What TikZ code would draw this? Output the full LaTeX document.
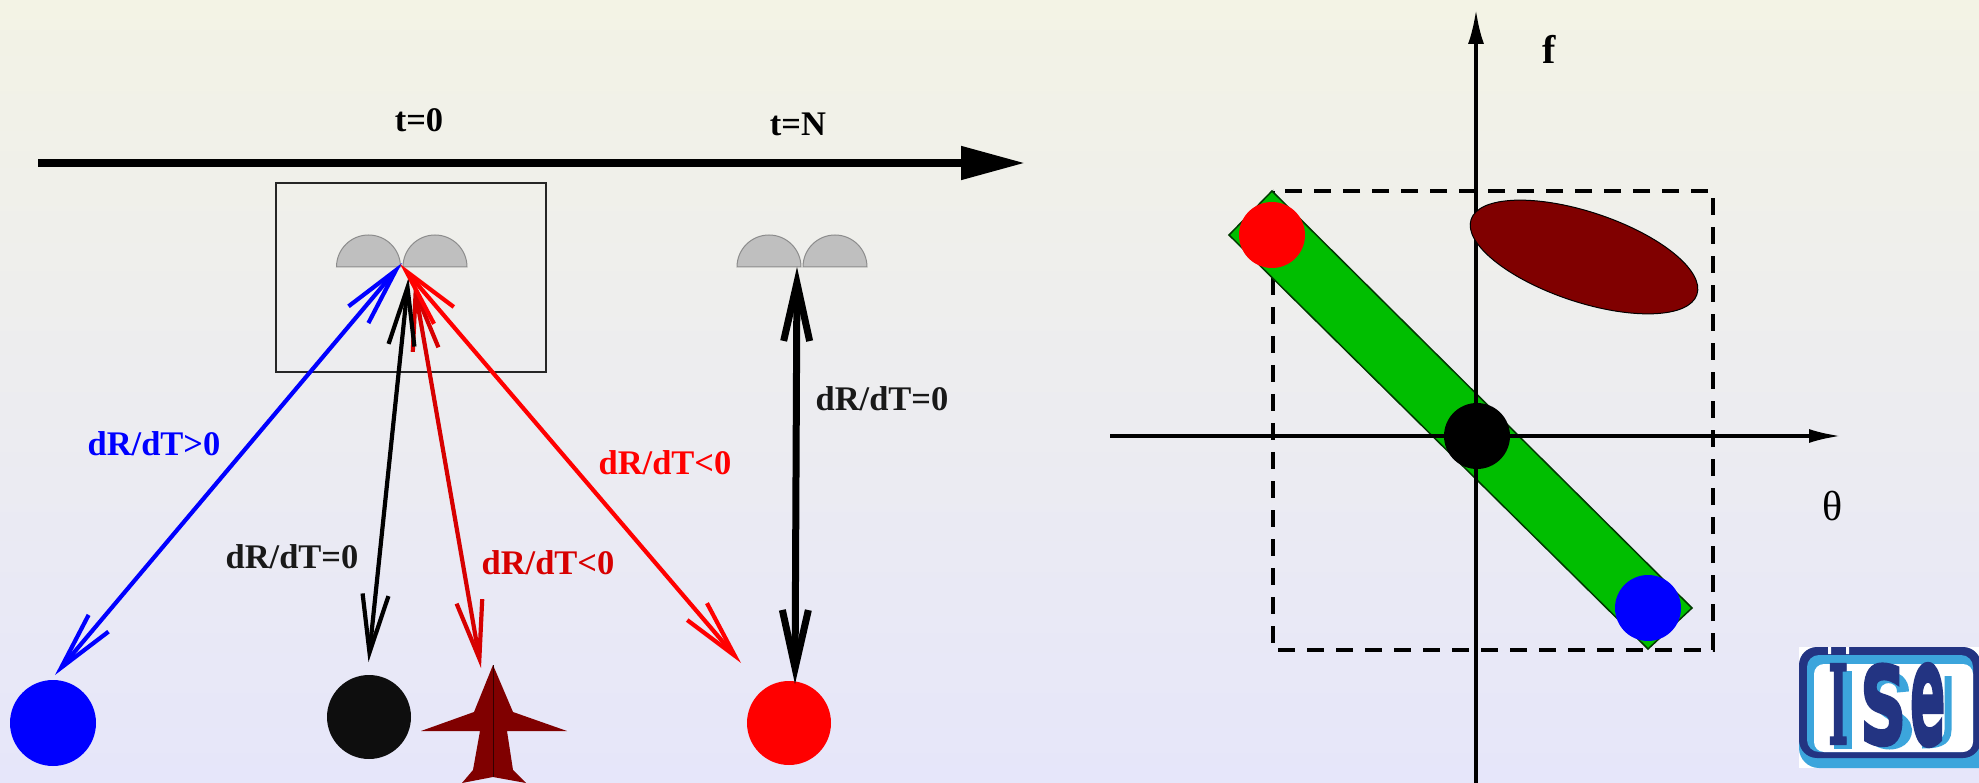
\documentclass[tikz,border=0pt]{standalone}
\usepackage{fontspec}
\setmainfont{Liberation Serif}
\newfontfamily\logosans{DejaVu Sans}[UprightFont=* Bold,FakeBold=3]
\newfontfamily\logoserif{DejaVu Serif}[UprightFont=* Bold,FakeBold=2]
\usetikzlibrary{arrows.meta}
\definecolor{bgtop}{RGB}{243,243,229}
\definecolor{bgmid}{RGB}{238,238,238}
\definecolor{bgbot}{RGB}{230,230,250}
\definecolor{dkred}{RGB}{128,0,0}
\definecolor{midred}{RGB}{215,0,0}
\definecolor{bandgreen}{RGB}{0,190,0}
\definecolor{logodark}{RGB}{35,52,130}
\definecolor{logolight}{RGB}{60,165,220}
\definecolor{almostblack}{RGB}{14,14,14}
\newcommand{\logotext}{\resizebox{20pt}{80pt}{\logoserif I}\hspace{12pt}\resizebox{46pt}{80pt}{\logosans S}\hspace{4pt}\resizebox{35pt}{80pt}{\logosans e}}
\tikzset{
  lab/.style={font=\fontsize{34.5}{34.5}\selectfont\bfseries,inner sep=0pt,anchor=center},
  dot/.style={circle,inner sep=0pt,draw=none,minimum size=#1},
  dbl/.style={line width=4.2pt,{Straight Barb[length=58pt,width=26pt]}-{Straight Barb[length=58pt,width=26pt]}},
  eyecup/.style={fill=black!25,draw=black!45,line width=1pt},
  dash box/.style={draw=black,line width=4pt,dash pattern=on 17pt off 12pt},
}
\begin{document}
\begin{tikzpicture}[x=1pt,y=-1pt]
\useasboundingbox (0,0) rectangle (1979,783);
\shade[top color=bgtop,middle color=bgmid,bottom color=bgbot] (0,0) rectangle (1979,783);
% time axis
\coordinate (t0) at (38,163);
\coordinate (t1) at (1025,163);
\draw[line width=8pt,-{Triangle[length=64pt,width=32pt]}] (t0) -- (t1);
\node[lab] at (419,120) {t=0};
\node[lab] at (798,124) {t=N};
% box and eyes
\node[draw=black!85,line width=1.6pt,inner sep=0pt,minimum width=270pt,minimum height=189pt] (frame) at (411,277.5) {};
\foreach \cx in {368.5,435,769,835}{
  \draw[eyecup] (\cx-32,267) arc[start angle=180,end angle=0,radius=32pt] -- cycle;
}
% targets
\node[dot=86pt,fill=blue] (bluet) at (53,723) {};
\node[dot=84pt,fill=almostblack] (blackt) at (369,717) {};
\node[dot=84pt,fill=red] (redt) at (789,723) {};
% plane
\fill[dkred] (493,665) -- (513,712) -- (567,731) -- (507,731) -- (513,770) -- (526,783) -- (493,777) -- (462,783) -- (473,770) -- (480,731) -- (421,731) -- (474,712) -- cycle;
\draw[black!60!dkred,line width=1pt] (493,665) -- (493,777);
% arrows
\coordinate (bA) at (402,263); \coordinate (bB) at (55,675);
\coordinate (kA) at (408.5,278); \coordinate (kB) at (368.5,662);
\coordinate (mA) at (414,283); \coordinate (mB) at (481,668);
\coordinate (rA) at (400,264); \coordinate (rB) at (741,663);
\coordinate (tA) at (797,267); \coordinate (tB) at (795,684);
\draw[dbl,draw=blue] (bA) -- (bB);
\draw[dbl,draw=midred] (mA) -- (mB);
\draw[dbl,draw=black] (kA) -- (kB);
\draw[dbl,draw=red] (rA) -- (rB);
\draw[dbl,draw=black,line width=7pt] (tA) -- (tB);
\node[lab,text=blue] at (154,444) {dR/dT>0};
\node[lab,text=black!90] at (292,557) {dR/dT=0};
\node[lab,text=midred] at (548,563) {dR/dT<0};
\node[lab,text=red] at (665,463) {dR/dT<0};
\node[lab,text=black!90] at (882,399) {dR/dT=0};
% right panel
\coordinate (vA) at (1476,783); \coordinate (vB) at (1476,10);
\coordinate (hA) at (1110,436); \coordinate (hB) at (1841,436);
\draw[dash box] (1273,191) rectangle (1713,650);
\draw[fill=bandgreen,draw=black!70!bandgreen,line width=1.5pt] (1272,191) -- (1692,608) -- (1648,649) -- (1229,235) -- cycle;
\draw[line width=3.5pt,-{Latex[length=34pt,width=16pt]}] (vA) -- (vB);
\draw[line width=3.5pt,-{Latex[length=32pt,width=14pt]}] (hA) -- (hB);
\draw[fill=dkred,draw=black,line width=1pt,shift={(1584,257)},rotate=-18.4] (0,0) ellipse[x radius=119pt,y radius=45pt];
\node[dot=66pt,fill=red] (redp) at (1272,235) {};
\node[dot=66pt,fill=blue] (bluep) at (1648,608) {};
\node[dot=66pt,fill=black] (blackp) at (1477,436) {};
\node[lab,font=\fontsize{40}{40}\selectfont\bfseries] at (1549,49) {f};
\node[lab,font=\fontsize{42}{42}\selectfont] at (1833,506) {θ};
% logo
\fill[white] (1799,647) rectangle (1979,768);
\fill[logolight,rounded corners=20pt] (1799,660) rectangle (2010,768);
\fill[logodark,rounded corners=18pt] (1799,647) rectangle (1981,758);
\fill[logolight,rounded corners=12pt] (1807,655) rectangle (1973,752);
\fill[white,rounded corners=10pt] (1814,664) rectangle (1973,752);
\fill[white] (1828,647) rectangle (1831,654) (1846,647) rectangle (1849,654);
\fill[logolight] (1834,671) rectangle (1852,749);
\draw[logolight,line width=12pt] (1903,692) .. controls (1903,672) and (1874,672) .. (1874,692) .. controls (1874,712) and (1906,716) .. (1906,730) .. controls (1906,748) and (1874,748) .. (1870,730);
\draw[logolight,line width=7pt] (1948,676) -- (1948,730) .. controls (1948,744) and (1935,745) .. (1922,745);
\node[inner sep=0pt,anchor=west,text=logodark] (logotop) at (1828,705) {\logotext};
\end{tikzpicture}
\end{document}
